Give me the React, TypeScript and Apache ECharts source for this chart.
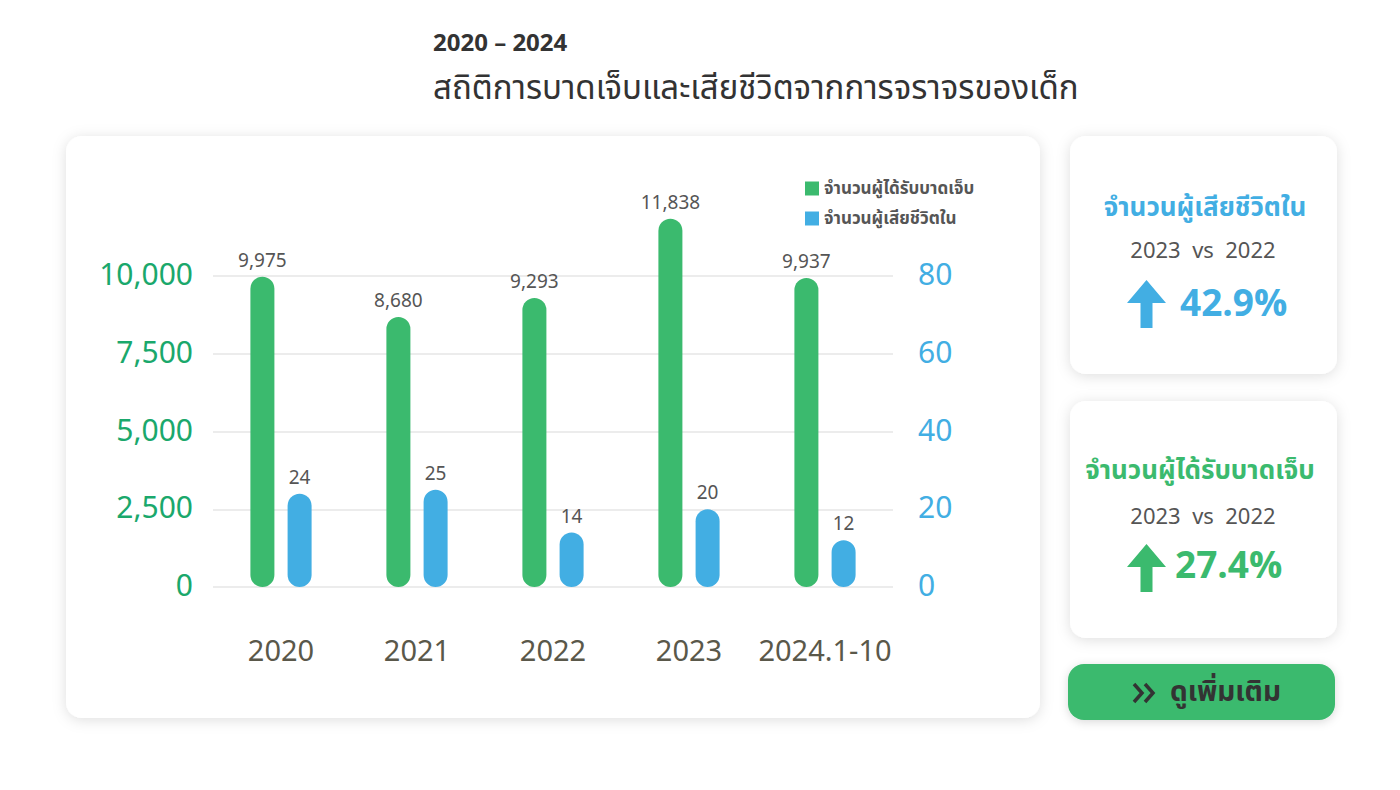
import React, { useEffect, useRef } from "react";
import * as echarts from "echarts";

const categories = ["2020", "2021", "2022", "2023", "2024.1-10"];
const injuredValues = [9975, 8680, 9293, 11838, 9937];
const deathValues = [24, 25, 14, 20, 12];
const leftTicks = { min: 0, max: 10000, interval: 2500 };
const rightTicks = { min: 0, max: 80, interval: 20 };
const injuredName = "จำนวนผู้ได้รับบาดเจ็บ";
const deathName = "จำนวนผู้เสียชีวิตใน";
const subTitle = "2020 – 2024";
const mainTitle = "สถิติการบาดเจ็บและเสียชีวิตจากการจราจรของเด็ก";
const compareLabel = "2023  vs  2022";
const deathChange = "42.9%";
const injuredChange = "27.4%";
const buttonLabel = "ดูเพิ่มเติม";

const GREEN = "#3bba6e";
const BLUE = "#42aee3";
const FONT = '"Noto Sans Thai", "Noto Sans", sans-serif';

const fmt = (v: number) => Number(v).toLocaleString("en-US");

function card(x: number, y: number, w: number, h: number) {
  return {
    type: "rect",
    z: 0,
    shape: { x, y, width: w, height: h, r: 16 },
    style: {
      fill: "#ffffff",
      shadowBlur: 14,
      shadowColor: "rgba(0,0,0,0.13)",
      shadowOffsetX: 0,
      shadowOffsetY: 2,
    },
  };
}

function arrow(cx: number, top: number, color: string) {
  return {
    type: "polygon",
    z: 10,
    shape: {
      points: [
        [cx, top],
        [cx + 19.5, top + 23],
        [cx + 6, top + 23],
        [cx + 6, top + 48],
        [cx - 6, top + 48],
        [cx - 6, top + 23],
        [cx - 19.5, top + 23],
      ],
    },
    style: { fill: color },
  };
}

function txt(x: number, y: number, text: string, size: number, color: string, weight: any, align: any = "left") {
  return {
    type: "text",
    z: 10,
    x,
    y,
    style: {
      text,
      fontSize: size,
      fontFamily: FONT,
      fontWeight: weight,
      fill: color,
      align,
      verticalAlign: "middle",
    },
  };
}

export default function App() {
  const ref = useRef<HTMLDivElement>(null);
  useEffect(() => {
    if (!ref.current) return;
    const chart = echarts.init(ref.current, undefined, { renderer: "svg" });
    const option: any = {
      animation: false,
      backgroundColor: "#ffffff",
      textStyle: { fontFamily: FONT },
      legend: {
        orient: "vertical",
        left: 800,
        top: 175,
        itemWidth: 14,
        itemHeight: 14,
        itemGap: 13,
        icon: "rect",
        data: [injuredName, deathName],
        textStyle: { fontSize: 17, fontWeight: "bold", color: "#555555", fontFamily: FONT },
      },
      grid: { left: 213, right: 507, top: 276, height: 311, containLabel: false },
      xAxis: {
        type: "category",
        data: categories,
        axisLine: { show: false },
        axisTick: { show: false },
        axisLabel: { fontSize: 29, color: "#5a584a", margin: 50, interval: 0, fontFamily: FONT },
      },
      yAxis: [
        {
          type: "value",
          ...leftTicks,
          axisLine: { show: false },
          axisTick: { show: false },
          splitLine: { lineStyle: { color: "#e6e6e6", width: 1.5 } },
          axisLabel: { fontSize: 30, color: "#1aa86c", margin: 20, formatter: fmt, fontFamily: FONT },
        },
        {
          type: "value",
          ...rightTicks,
          axisLine: { show: false },
          axisTick: { show: false },
          splitLine: { show: false },
          axisLabel: { fontSize: 30, color: BLUE, margin: 25, fontFamily: FONT },
        },
      ],
      series: [
        {
          name: injuredName,
          type: "bar",
          yAxisIndex: 0,
          data: injuredValues,
          barWidth: 24,
          barGap: "55%",
          clip: false,
          itemStyle: { color: GREEN, borderRadius: 12 },
          label: {
            show: true,
            position: "top",
            distance: 6,
            fontSize: 19,
            color: "#555555",
            formatter: (p: any) => fmt(p.value),
            fontFamily: FONT,
          },
        },
        {
          name: deathName,
          type: "bar",
          yAxisIndex: 1,
          data: deathValues,
          barWidth: 24,
          clip: false,
          itemStyle: { color: BLUE, borderRadius: 12 },
          label: {
            show: true,
            position: "top",
            distance: 6,
            fontSize: 19,
            color: "#555555",
            fontFamily: FONT,
          },
        },
      ],
      graphic: [
        card(66, 136, 974, 582),
        card(1070, 136, 267, 238),
        card(1070, 401, 267, 237),
        {
          type: "rect",
          z: 0,
          shape: { x: 1068, y: 664, width: 267, height: 56, r: 16 },
          style: {
            fill: GREEN,
            shadowBlur: 10,
            shadowColor: "rgba(0,0,0,0.15)",
            shadowOffsetY: 2,
          },
        },
        txt(433, 44, subTitle, 24, "#333333", "bold"),
        txt(433, 89, mainTitle, 33, "#333333", "normal"),
        txt(1205, 208, deathName, 26, BLUE, "bold", "center"),
        txt(1203, 251, compareLabel, 22, "#555555", "normal", "center"),
        arrow(1146.5, 280, BLUE),
        txt(1180, 305, deathChange, 37, BLUE, "bold"),
        txt(1200, 471, injuredName, 26, GREEN, "bold", "center"),
        txt(1203, 517, compareLabel, 22, "#555555", "normal", "center"),
        arrow(1146.5, 544, GREEN),
        txt(1175, 567, injuredChange, 37, GREEN, "bold"),
        {
          type: "polyline",
          z: 10,
          shape: { points: [[1134, 684], [1142, 693], [1134, 702]] },
          style: { stroke: "#333333", lineWidth: 3.5, fill: null },
        },
        {
          type: "polyline",
          z: 10,
          shape: { points: [[1145, 684], [1153, 693], [1145, 702]] },
          style: { stroke: "#333333", lineWidth: 3.5, fill: null },
        },
        txt(1170, 692, buttonLabel, 28, "#333333", "bold"),
      ],
    };
    chart.setOption(option);
    return () => chart.dispose();
  }, []);
  return (
    <div
      ref={ref}
      style={{ position: "absolute", left: 0, top: 0, width: 1400, height: 790 }}
    />
  );
}
